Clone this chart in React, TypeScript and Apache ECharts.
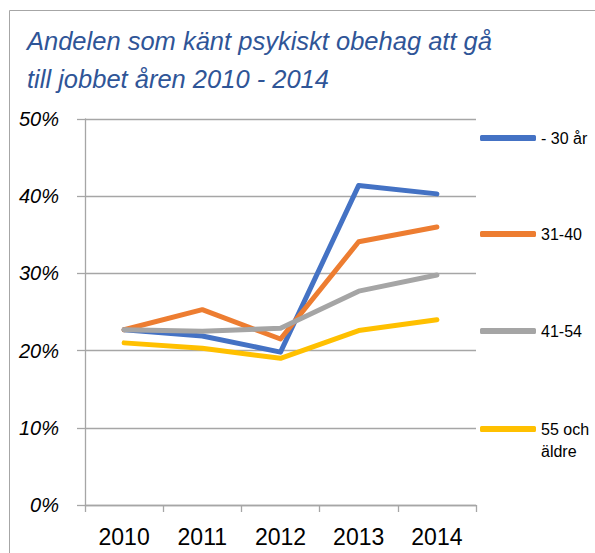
import React, { useEffect, useRef } from "react";
import * as echarts from "echarts";

const titleText = "Andelen som känt psykiskt obehag att gå\ntill jobbet åren 2010 - 2014";
const years = ["2010", "2011", "2012", "2013", "2014"];
const seriesNames = ["- 30 år", "31-40", "41-54", "55 och äldre"];
const under30 = [22.7, 21.9, 19.8, 41.4, 40.3];
const age31to40 = [22.7, 25.3, 21.5, 34.1, 36.0];
const age41to54 = [22.7, 22.5, 22.9, 27.7, 29.8];
const age55plus = [21.0, 20.3, 19.0, 22.6, 24.0];
const colors = ["#4472C4", "#ED7D31", "#A5A5A5", "#FFC000"];
const legendTops = [128, 224, 321, 396];

export default function App() {
  const ref = useRef<HTMLDivElement>(null);
  useEffect(() => {
    if (!ref.current) return;
    const chart = echarts.init(ref.current, undefined, { renderer: "svg" });
    const values = [under30, age31to40, age41to54, age55plus];
    const font = "'Liberation Sans', Arial, sans-serif";
    chart.setOption({
      animation: false,
      textStyle: { fontFamily: font },
      title: {
        text: titleText,
        left: 22,
        top: 17,
        textStyle: {
          fontFamily: font,
          fontStyle: "italic",
          fontWeight: "normal",
          fontSize: 25.5,
          lineHeight: 38,
          color: "#2F5597",
        },
      },
      graphic: [
        {
          type: "rect",
          shape: { x: 9.5, y: 10.5, width: 700, height: 700 },
          style: { fill: "none", stroke: "#A6A6A6", lineWidth: 1 },
          silent: true,
        },
      ],
      legend: seriesNames.map((n, i) => ({
        data: [n],
        orient: "vertical",
        left: 480,
        top: legendTops[i],
        icon: "roundRect",
        itemWidth: 56,
        itemHeight: 6,
        selectedMode: false,
        formatter: (name: string) => (name === "55 och äldre" ? "\n55 och\näldre" : name),
        textStyle: { fontFamily: font, fontSize: 16, color: "#000", lineHeight: i === 3 ? 22 : 20 },
        padding: 0,
      })),
      grid: { left: 85, right: 119, top: 119, bottom: 48, containLabel: false },
      xAxis: {
        type: "category",
        data: years,
        boundaryGap: true,
        axisLine: { show: true, lineStyle: { color: "#A6A6A6", width: 1.3 } },
        axisTick: { show: true, length: 7, lineStyle: { color: "#A6A6A6", width: 1.3 } },
        axisLabel: { fontFamily: font, fontSize: 23, color: "#000", margin: 20 },
      },
      yAxis: {
        type: "value",
        min: 0,
        max: 50,
        interval: 10,
        axisLine: { show: true, lineStyle: { color: "#A6A6A6", width: 1.3 } },
        axisTick: { show: true, length: 8, lineStyle: { color: "#A6A6A6", width: 1.3 } },
        splitLine: { show: true, lineStyle: { color: "#A6A6A6", width: 1.3 } },
        axisLabel: {
          fontFamily: font,
          fontSize: 20,
          fontStyle: "italic",
          color: "#000",
          margin: 26,
          formatter: "{value}%",
        },
      },
      series: seriesNames.map((n, i) => ({
        name: n,
        type: "line",
        data: values[i],
        symbol: "none",
        lineStyle: { color: colors[i], width: 5, cap: "round", join: "round" },
        itemStyle: { color: colors[i] },
      })),
    });
    return () => chart.dispose();
  }, []);
  return (
    <div
      ref={ref}
      style={{ position: "fixed", left: 0, top: 0, width: 595, height: 553, background: "#fff" }}
    />
  );
}
